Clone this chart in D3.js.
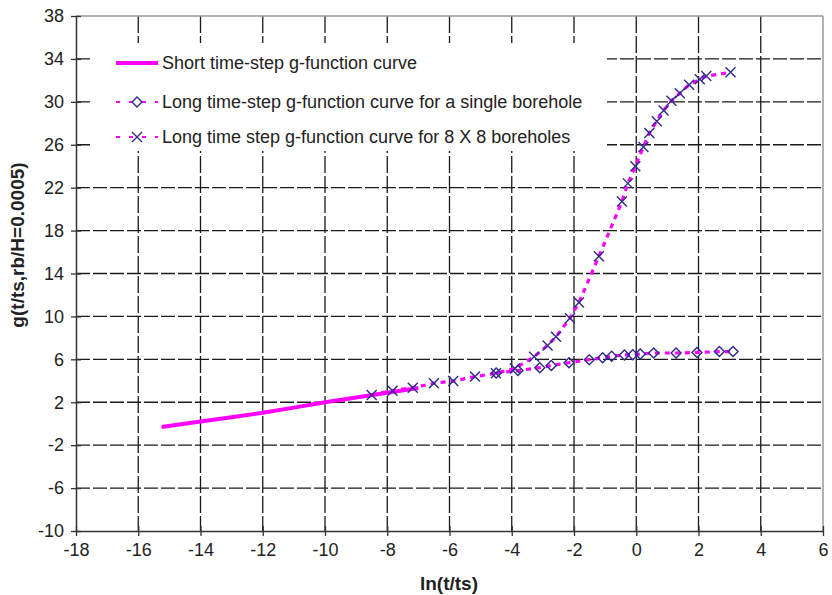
<!DOCTYPE html>
<html><head><meta charset="utf-8">
<script src="https://cdn.jsdelivr.net/npm/d3@7/dist/d3.min.js"></script>
<style>body{margin:0;background:#fff}svg{display:block;font-family:"Liberation Sans",Arial,sans-serif}</style>
</head><body><svg id="c" width="832" height="595"></svg>
<script>
// ---- data ----
const xTicks = [-18,-16,-14,-12,-10,-8,-6,-4,-2,0,2,4,6];
const yTicks = [-10,-6,-2,2,6,10,14,18,22,26,30,34,38];
const shortX = [-15.25,-14,-13,-12,-11,-10,-9,-8,-7];
const shortG = [-0.3,0.2,0.6,1.03,1.5,2.0,2.45,2.88,3.33];
const singleX = [-4.5,-3.8,-3.1,-2.73,-2.16,-1.51,-1.08,-0.79,-0.38,-0.11,0.13,0.56,1.28,1.95,2.67,3.11];
const singleG = [4.72,4.95,5.22,5.42,5.69,5.97,6.15,6.28,6.41,6.43,6.5,6.59,6.59,6.64,6.72,6.72];
const fieldX = [-8.5,-7.83,-7.18,-6.5,-5.88,-5.18,-4.51,-3.9,-3.28,-2.85,-2.58,-2.13,-1.84,-1.2,-0.46,-0.27,-0.03,0.23,0.42,0.66,0.88,1.13,1.4,1.7,2.04,2.25,3.03];
const fieldG = [2.68,3.08,3.36,3.77,3.98,4.39,4.7,5.15,6.25,7.3,8.1,9.83,11.3,15.6,20.7,22.4,24.0,25.8,27.1,28.2,29.2,30.1,30.8,31.6,32.1,32.4,32.75];
const legendLabels = ["Short time-step g-function curve","Long time-step g-function curve for a single borehole","Long time step g-function curve for 8 X 8 boreholes"];
const xTitle = "ln(t/ts)";
const yTitle = "g(t/ts,rb/H=0.0005)";

// ---- chart ----
const svg = d3.select("#c");
const L=76,R=823,T=16,B=531;
const x = d3.scaleLinear().domain([-18,6]).range([L,R]);
const y = d3.scaleLinear().domain([-10,38]).range([B,T]);
const pink="#ff00ff", navy="#2f2a8c", gridC="#1a1a1a";

// gridlines
svg.append("g").selectAll("line").data(xTicks.filter(d=>d>-18&&d<6)).join("line")
  .attr("x1",d=>x(d)).attr("x2",d=>x(d)).attr("y1",T).attr("y2",B)
  .attr("stroke",gridC).attr("stroke-width",1.3).attr("stroke-dasharray","17,3");
svg.append("g").selectAll("line").data(yTicks.filter(d=>d>-10&&d<38)).join("line")
  .attr("y1",d=>y(d)).attr("y2",d=>y(d)).attr("x1",L).attr("x2",R)
  .attr("stroke",gridC).attr("stroke-width",1.3).attr("stroke-dasharray","14,3");

// border top/right
svg.append("line").attr("x1",L).attr("x2",R).attr("y1",T).attr("y2",T).attr("stroke","#999").attr("stroke-width",1.5);
svg.append("line").attr("x1",R).attr("x2",R).attr("y1",T).attr("y2",B).attr("stroke","#999").attr("stroke-width",1.5);

// axes
const fmt = d=>String(d);
const xAxis = svg.append("g").attr("transform",`translate(0,${B})`)
  .call(d3.axisBottom(x).tickValues(xTicks).tickFormat(fmt).tickSize(5).tickSizeOuter(0).tickPadding(7));
xAxis.selectAll(".tick line").attr("y1",-5);
const yAxis = svg.append("g").attr("transform",`translate(${L},0)`)
  .call(d3.axisLeft(y).tickValues(yTicks).tickFormat(fmt).tickSize(5).tickSizeOuter(0).tickPadding(7));
yAxis.selectAll(".tick line").attr("x1",5);
[xAxis,yAxis].forEach(a=>{
  a.select(".domain").attr("stroke","#333").attr("stroke-width",1.5);
  a.selectAll(".tick line").attr("stroke","#333").attr("stroke-width",1.3);
  a.selectAll("text").attr("fill","#222").style("font-size","18px").style("font-family","'Liberation Sans',Arial,sans-serif");
});

// titles
svg.append("text").attr("x",449).attr("y",590).attr("text-anchor","middle")
  .style("font-size","19px").style("font-weight","bold").attr("fill","#222").text(xTitle);
svg.append("text").attr("transform","translate(24,245) rotate(-90)").attr("text-anchor","middle")
  .style("font-size","19px").style("font-weight","bold").attr("fill","#222").text(yTitle);

// legend background
svg.append("rect").attr("x",93).attr("y",43).attr("width",514).attr("height",108).attr("fill","#fff");

// lines
const line = d3.line().x(d=>x(d[0])).y(d=>y(d[1]));
const shortPts = shortX.map((v,i)=>[v,shortG[i]]);
const singlePts = singleX.map((v,i)=>[v,singleG[i]]);
const fieldPts = fieldX.map((v,i)=>[v,fieldG[i]]);
svg.append("path").attr("d",line(fieldPts)).attr("fill","none").attr("stroke",pink).attr("stroke-width",3.2).attr("stroke-dasharray","5,5");
svg.append("path").attr("d",line(singlePts)).attr("fill","none").attr("stroke",pink).attr("stroke-width",3.2).attr("stroke-dasharray","5,5");
svg.append("path").attr("d",line(shortPts)).attr("fill","none").attr("stroke",pink).attr("stroke-width",4);

// markers
const dia = s=>`M0,${-s}L${s},0L0,${s}L${-s},0Z`;
const cross = s=>`M${-s},${-s}L${s},${s}M${-s},${s}L${s},${-s}`;
svg.append("g").selectAll("path").data(singlePts).join("path")
  .attr("transform",d=>`translate(${x(d[0])},${y(d[1])})`).attr("d",dia(5))
  .attr("fill","none").attr("stroke",navy).attr("stroke-width",1.4);
svg.append("g").selectAll("path").data(fieldPts).join("path")
  .attr("transform",d=>`translate(${x(d[0])},${y(d[1])})`).attr("d",cross(5))
  .attr("fill","none").attr("stroke",navy).attr("stroke-width",1.4);

// legend
const lg = svg.append("g");
const rows=[63,102,137];
lg.append("line").attr("x1",116).attr("x2",158).attr("y1",rows[0]).attr("y2",rows[0]).attr("stroke",pink).attr("stroke-width",4);
[1,2].forEach(i=>{
  lg.append("line").attr("x1",116).attr("x2",158).attr("y1",rows[i]).attr("y2",rows[i])
    .attr("stroke",pink).attr("stroke-width",2).attr("stroke-dasharray","4,9");
});
lg.append("path").attr("transform",`translate(137,${rows[1]})`).attr("d",dia(5)).attr("fill","#fff").attr("stroke",navy).attr("stroke-width",1.4);
lg.append("path").attr("transform",`translate(137,${rows[2]})`).attr("d",cross(5)).attr("fill","none").attr("stroke",navy).attr("stroke-width",1.4);
lg.selectAll("text.l").data(legendLabels).join("text").attr("class","l")
  .attr("x",162).attr("y",(d,i)=>rows[i]).attr("dy","0.35em")
  .style("font-size","18px").attr("fill","#222").text(d=>d);
</script></body></html>
